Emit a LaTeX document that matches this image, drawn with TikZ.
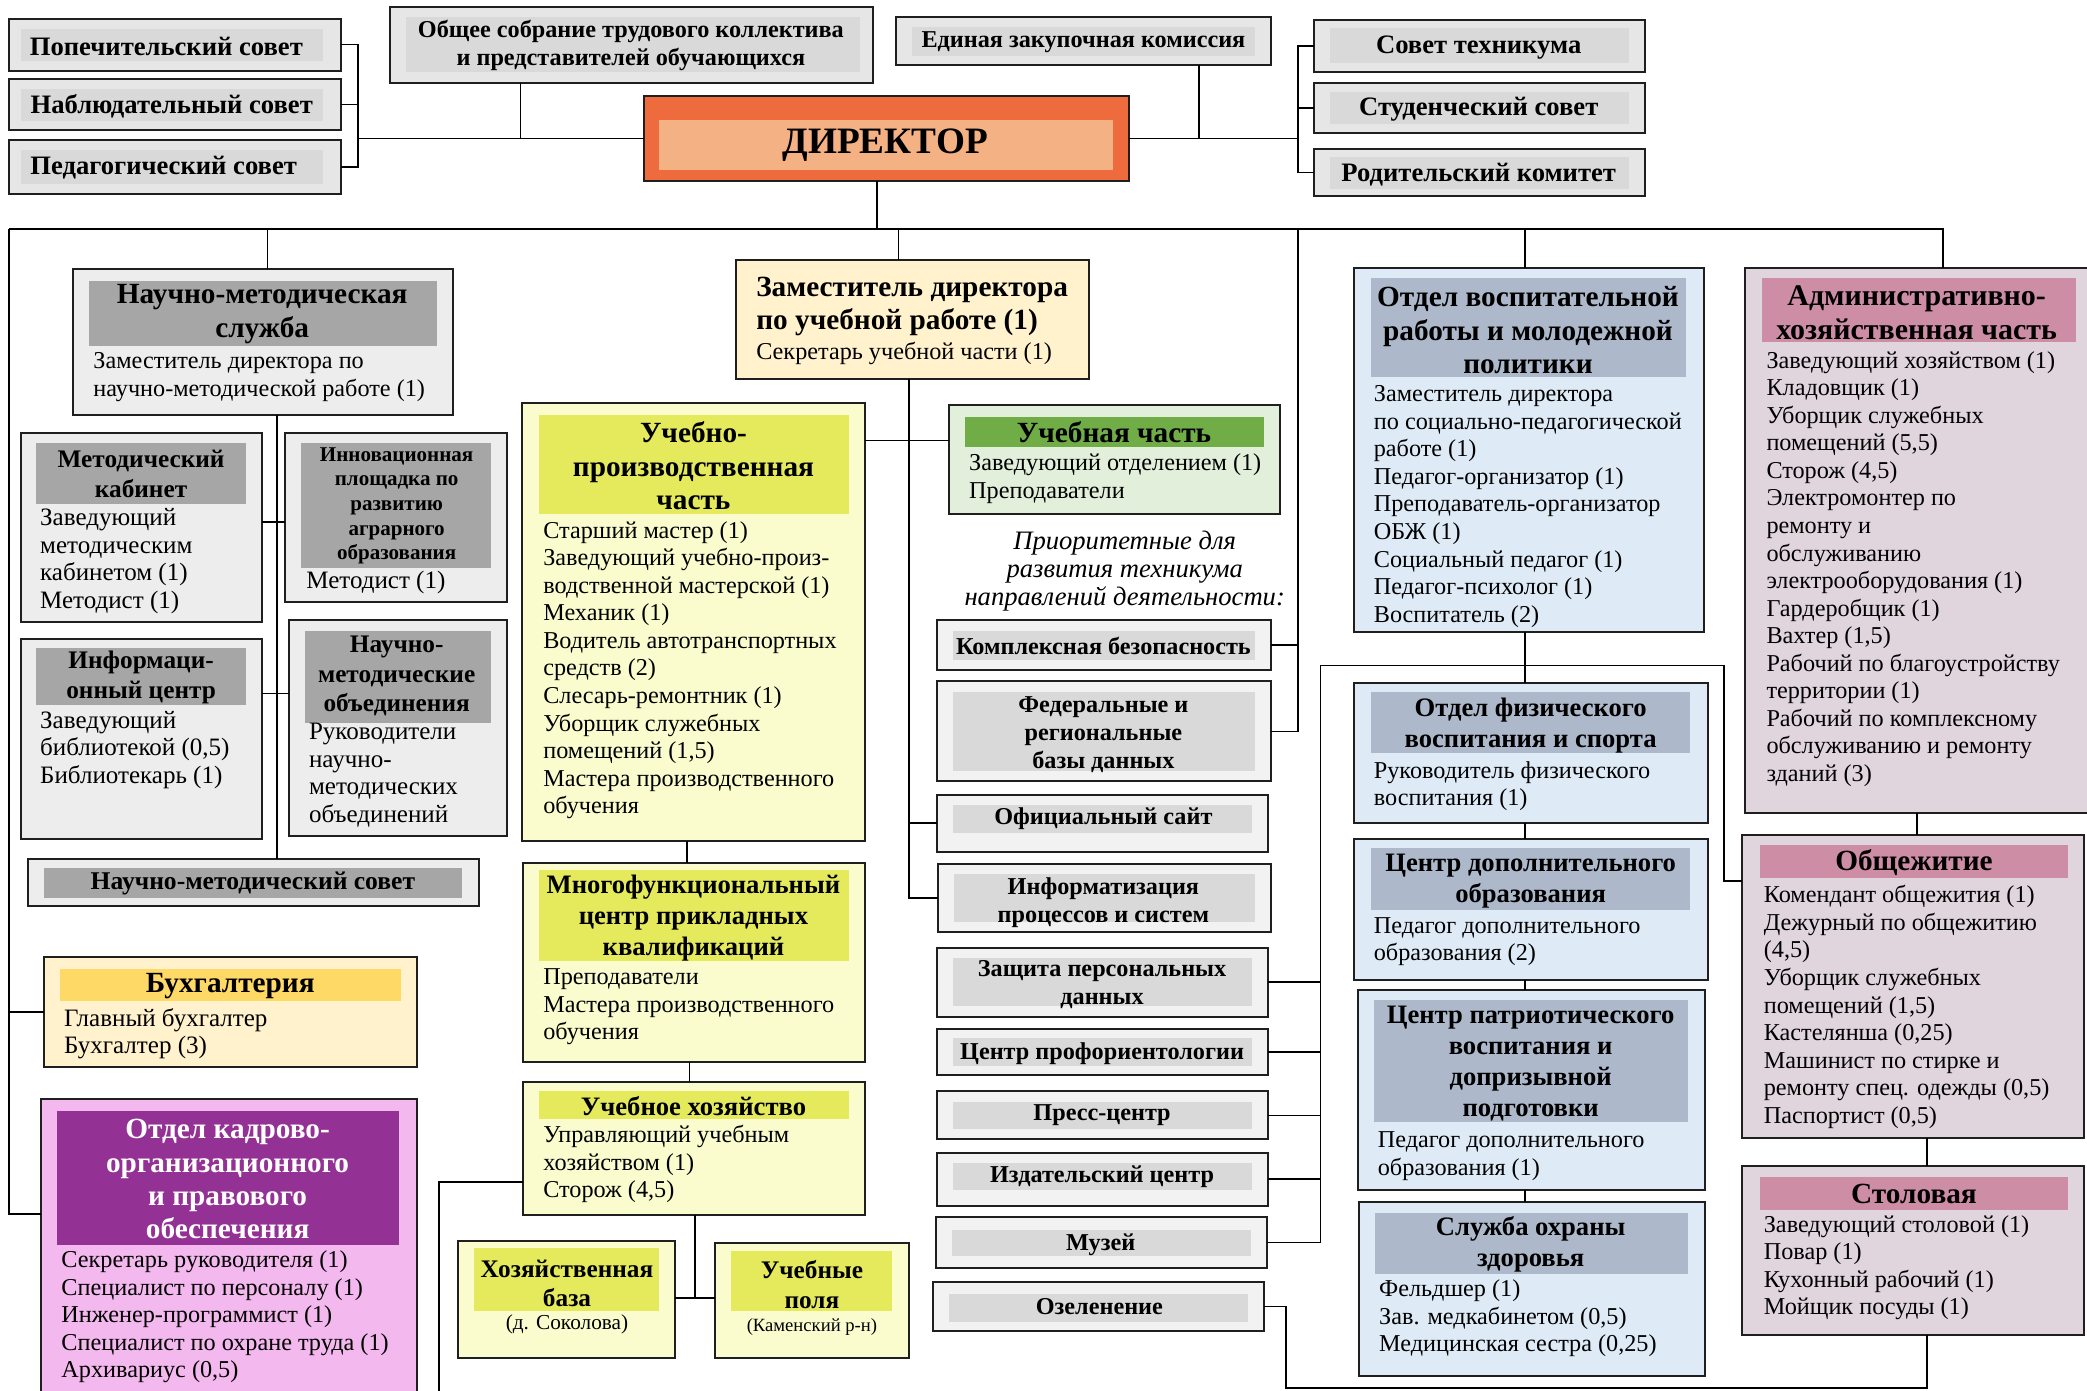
\documentclass[tikz,border=0pt]{standalone}
\usepackage{fontspec}
\setmainfont{Liberation Serif}
\definecolor{gbox}{HTML}{E7E6E6}
\definecolor{gband}{HTML}{D9D9D9}
\definecolor{nbox}{HTML}{EDEDED}
\definecolor{nband}{HTML}{A6A6A6}
\definecolor{pbox}{HTML}{F2F2F2}
\definecolor{dirout}{HTML}{EE6B3D}
\definecolor{dirin}{HTML}{F4B183}
\definecolor{cream}{HTML}{FFF2CC}
\definecolor{buhband}{HTML}{FFD966}
\definecolor{ylw}{HTML}{FAFCCE}
\definecolor{ylwband}{HTML}{E4EA5C}
\definecolor{grn}{HTML}{E2EFDA}
\definecolor{grnband}{HTML}{70AD47}
\definecolor{blu}{HTML}{DEEBF7}
\definecolor{bluband}{HTML}{ADB9CA}
\definecolor{mauve}{HTML}{E0D5DD}
\definecolor{mauveband}{HTML}{CD8DA4}
\definecolor{pink}{HTML}{F3B8ED}
\definecolor{purp}{HTML}{943195}
\newcommand{\bx}[6]{\node[#6, anchor=north west, minimum width={(#4)-(#2)}, minimum height={(#5)-(#3)}] (#1) at (#2,#3) {};}
\tikzset{
 box/.style={draw=black!88, line width=1.5pt, inner sep=0pt, outer sep=0pt},
 band/.style={draw=none, inner sep=0pt, outer sep=0pt},
 conn/.style={draw=black, line width=1.3pt},
 tb/.style={font=\bfseries\fontsize{20}{23}\selectfont, inner sep=0pt, align=center},
 ttl/.style={font=\bfseries\fontsize{22}{25}\selectfont, inner sep=0pt, align=center},
 ttlm/.style={font=\bfseries\fontsize{20}{23.3}\selectfont, inner sep=0pt, align=center},
 ttls/.style={font=\bfseries\fontsize{19}{22}\selectfont, inner sep=0pt, align=center},
 itm/.style={font=\fontsize{18.2}{20.7}\selectfont, inner sep=0pt, align=left, anchor=west, yshift=-1.5pt},
 itmw/.style={font=\fontsize{18.8}{20.7}\selectfont, inner sep=0pt, align=left, anchor=west, yshift=-1.5pt},
 pri/.style={font=\bfseries\fontsize{18.2}{21}\selectfont, inner sep=0pt, align=center},
 sml/.style={font=\fontsize{14}{17}\selectfont, inner sep=0pt, align=center},
}
\begin{document}
\begin{tikzpicture}[x=1pt,y=-1pt]
\useasboundingbox[fill=white] (0,0) rectangle (1568,1045);

% ---------- top row ----------
\bx{pop}{7}{14}{256}{53}{box,fill=gbox}
\bx{pop-b}{16}{22}{243}{46}{band,fill=gband}
\node[tb] (pop-t) at (125,35) {Попечительский совет};
\bx{nab}{7}{59}{256}{98}{box,fill=gbox}
\bx{nab-b}{16}{67}{243}{91}{band,fill=gband}
\node[tb] (nab-t) at (129,80) {Наблюдательный совет};
\bx{ped}{7}{105}{256}{146}{box,fill=gbox}
\bx{ped-b}{16}{113}{243}{138}{band,fill=gband}
\node[tb] (ped-t) at (123,126) {Педагогический совет};

\bx{obs}{293}{5}{656}{62}{box,fill=gbox}
\bx{obs-b}{305}{13}{646}{54}{band,fill=gband}
\node[font=\bfseries\fontsize{18.2}{21}\selectfont, inner sep=0pt, align=center] (obs-t) at (474,34) {Общее собрание трудового коллектива\\и представителей обучающихся};

\bx{zak}{673}{13}{955}{49}{box,fill=gbox}
\bx{zak-b}{685}{20}{943}{42}{band,fill=gband}
\node[font=\bfseries\fontsize{18.2}{21}\selectfont, inner sep=0pt] (zak-t) at (814,32) {Единая закупочная комиссия};

\bx{dir}{484}{72}{848}{136}{box,fill=dirout}
\bx{dir-b}{495}{90}{836}{128}{band,fill=dirin}
\node[font=\bfseries\fontsize{28}{32}\selectfont, inner sep=0pt] (dir-t) at (665,109) {ДИРЕКТОР};

\bx{sov}{987}{15}{1236}{54}{box,fill=gbox}
\bx{sov-b}{999}{21}{1224}{47}{band,fill=gband}
\node[tb] (sov-t) at (1111,36) {Совет техникума};
\bx{stud}{987}{62}{1236}{100}{box,fill=gbox}
\bx{stud-b}{999}{69}{1224}{93}{band,fill=gband}
\node[tb] (stud-t) at (1111,82) {Студенческий совет};
\bx{rod}{987}{112}{1236}{147}{box,fill=gbox}
\bx{rod-b}{999}{118}{1224}{142}{band,fill=gband}
\node[tb] (rod-t) at (1111,131) {Родительский комитет};

% ---------- scientific-methodical ----------
\bx{nms}{55}{202}{340}{312}{box,fill=nbox}
\bx{nms-b}{67}{211}{328}{260}{band,fill=nband}
\node[ttl] (nms-t) at (197,236) {Научно-методическая\\служба};
\node[itm] (nms-i) at (70,282) {Заместитель директора по\\научно-методической работе (1)};

\bx{mk}{16}{325}{197}{467}{box,fill=nbox}
\bx{mk-b}{27}{333}{185}{379}{band,fill=nband}
\node[ttls] (mk-t) at (106,356) {Методический\\кабинет};
\node[itmw] (mk-i) at (30,420) {Заведующий\\методическим\\кабинетом (1)\\Методист (1)};

\bx{inn}{214}{325}{381}{452}{box,fill=nbox}
\bx{inn-b}{226}{333}{369}{427}{band,fill=nband}
\node[font=\bfseries\fontsize{15.8}{18.5}\selectfont, inner sep=0pt, align=center] (inn-t) at (298,380) {Инновационная\\площадка по\\развитию\\аграрного\\образования};
\node[itmw] (inn-i) at (230,436) {Методист (1)};

\bx{ic}{16}{480}{197}{630}{box,fill=nbox}
\bx{ic-b}{27}{487}{185}{530}{band,fill=nband}
\node[ttls] (ic-t) at (106,509) {Информаци-\\онный центр};
\node[itmw] (ic-i) at (30,562) {Заведующий\\библиотекой (0,5)\\Библиотекарь (1)};

\bx{nmo}{217}{466}{381}{628}{box,fill=nbox}
\bx{nmo-b}{229}{474}{369}{543}{band,fill=nband}
\node[ttls] (nmo-t) at (298,508) {Научно-\\методические\\объединения};
\node[itmw] (nmo-i) at (232,581) {Руководители\\научно-\\методических\\объединений};

\bx{nmsov}{21}{645}{360}{681}{box,fill=nbox}
\bx{nmsov-b}{33}{652}{347}{675}{band,fill=nband}
\node[font=\bfseries\fontsize{19.2}{22}\selectfont, inner sep=0pt] (nmsov-t) at (190,664) {Научно-методический совет};

% ---------- accounting & HR ----------
\bx{buh}{33}{719}{313}{802}{box,fill=cream}
\bx{buh-b}{45}{728}{301}{752}{band,fill=buhband}
\node[ttl] (buh-t) at (173,741) {Бухгалтерия};
\node[itmw] (buh-i) at (48,775) {Главный бухгалтер\\Бухгалтер (3)};

\bx{kad}{31}{826}{313}{1065}{box,fill=pink}
\bx{kad-b}{43}{835}{300}{935}{band,fill=purp}
\node[ttl, text=white] (kad-t) at (171,886) {Отдел кадрово-\\организационного\\и правового\\обеспечения};
\node[itm] (kad-i) at (46,988) {Секретарь руководителя (1)\\Специалист по персоналу (1)\\Инженер-программист (1)\\Специалист по охране труда (1)\\Архивариус (0,5)};

% ---------- deputy for teaching ----------
\bx{zam}{553}{195}{818}{285}{box,fill=cream}
\node[font=\bfseries\fontsize{22}{25}\selectfont, inner sep=0pt, align=left, anchor=west] (zam-t) at (568,230) {Заместитель директора\\по учебной работе (1)};
\node[itm] (zam-i) at (568,264) {Секретарь учебной части (1)};

\bx{upc}{392}{303}{650}{632}{box,fill=ylw}
\bx{upc-b}{405}{312}{638}{386}{band,fill=ylwband}
\node[ttl] (upc-t) at (521,350) {Учебно-\\производственная\\часть};
\node[itm] (upc-i) at (408,502) {Старший мастер (1)\\Заведующий учебно-произ-\\водственной мастерской (1)\\Механик (1)\\Водитель автотранспортных\\средств (2)\\Слесарь-ремонтник (1)\\Уборщик служебных\\помещений (1,5)\\Мастера производственного\\обучения};

\bx{uch}{713}{304}{962}{386}{box,fill=grn}
\bx{uch-b}{725}{313}{950}{336}{band,fill=grnband}
\node[ttl] (uch-t) at (837,325) {Учебная часть};
\node[itm] (uch-i) at (728,358) {Заведующий отделением (1)\\Преподаватели};

\node[font=\itshape\fontsize{20}{20.8}\selectfont, inner sep=0pt, align=center] (prio) at (845,429) {Приоритетные для\\развития техникума\\направлений деятельности:};

\bx{mfc}{393}{648}{650}{798}{box,fill=ylw}
\bx{mfc-b}{405}{654}{638}{722}{band,fill=ylwband}
\node[ttlm] (mfc-t) at (521,690) {Многофункциональный\\центр прикладных\\квалификаций};
\node[itm] (mfc-i) at (408,755) {Преподаватели\\Мастера производственного\\обучения};

\bx{uh}{393}{813}{650}{913}{box,fill=ylw}
\bx{uh-b}{405}{820}{638}{841}{band,fill=ylwband}
\node[ttlm] (uh-t) at (521,831) {Учебное хозяйство};
\node[itm] (uh-i) at (408,873) {Управляющий учебным\\хозяйством (1)\\Сторож (4,5)};

\bx{hb}{344}{932}{507}{1020}{box,fill=ylw}
\bx{hb-b}{356}{938}{495}{985}{band,fill=ylwband}
\node[ttls] (hb-t) at (426,964) {Хозяйственная\\база};
\node[font=\fontsize{16}{18}\selectfont, inner sep=0pt] (hb-i) at (426,995) {(д. Соколова)};

\bx{up}{537}{934}{683}{1020}{box,fill=ylw}
\bx{up-b}{549}{940}{670}{985}{band,fill=ylwband}
\node[ttls] (up-t) at (610,965) {Учебные\\поля};
\node[sml] (up-i) at (610,997) {(Каменский р-н)};

% ---------- priority directions ----------
\bx{kb}{704}{466}{955}{503}{box,fill=pbox}
\bx{kb-b}{716}{474}{943}{496}{band,fill=gband}
\node[pri] (kb-t) at (829,485) {Комплексная безопасность};
\bx{fed}{704}{512}{955}{587}{box,fill=pbox}
\bx{fed-b}{716}{520}{943}{579}{band,fill=gband}
\node[pri] (fed-t) at (829,552) {Федеральные и\\региональные\\базы данных};
\bx{os}{704}{597}{953}{640}{box,fill=pbox}
\bx{os-b}{716}{605}{941}{626}{band,fill=gband}
\node[pri] (os-t) at (829,615) {Официальный сайт};
\bx{inf}{705}{649}{955}{700}{box,fill=pbox}
\bx{inf-b}{717}{657}{943}{693}{band,fill=gband}
\node[pri] (inf-t) at (829,678) {Информатизация\\процессов и систем};
\bx{zash}{704}{712}{953}{764}{box,fill=pbox}
\bx{zash-b}{716}{720}{941}{756}{band,fill=gband}
\node[pri] (zash-t) at (828,740) {Защита персональных\\данных};
\bx{cpr}{704}{773}{953}{808}{box,fill=pbox}
\bx{cpr-b}{716}{780}{941}{801}{band,fill=gband}
\node[pri] (cpr-t) at (828,792) {Центр профориентологии};
\bx{press}{704}{820}{953}{856}{box,fill=pbox}
\bx{press-b}{716}{828}{941}{848}{band,fill=gband}
\node[pri] (press-t) at (828,838) {Пресс-центр};
\bx{izd}{704}{866}{953}{906}{box,fill=pbox}
\bx{izd-b}{716}{874}{941}{894}{band,fill=gband}
\node[pri] (izd-t) at (828,884) {Издательский центр};
\bx{muz}{703}{914}{952}{953}{box,fill=pbox}
\bx{muz-b}{715}{924}{940}{944}{band,fill=gband}
\node[pri] (muz-t) at (827,935) {Музей};
\bx{oz}{701}{963}{950}{1000}{box,fill=pbox}
\bx{oz-b}{713}{972}{938}{993}{band,fill=gband}
\node[pri] (oz-t) at (826,982) {Озеленение};

% ---------- educational work (blue) ----------
\bx{ov}{1017}{201}{1280}{475}{box,fill=blu}
\bx{ov-b}{1030}{209}{1267}{283}{band,fill=bluband}
\node[ttl] (ov-t) at (1148,248) {Отдел воспитательной\\работы и молодежной\\политики};
\node[itm] (ov-i) at (1032,379) {Заместитель директора\\по социально-педагогической\\работе (1)\\Педагог-организатор (1)\\Преподаватель-организатор\\ОБЖ (1)\\Социальный педагог (1)\\Педагог-психолог (1)\\Воспитатель (2)};

\bx{of}{1017}{513}{1283}{618}{box,fill=blu}
\bx{of-b}{1030}{520}{1270}{566}{band,fill=bluband}
\node[ttlm] (of-t) at (1150,545) {Отдел физического\\воспитания и спорта};
\node[itm] (of-i) at (1032,589) {Руководитель физического\\воспитания (1)};

\bx{cdo}{1017}{630}{1283}{736}{box,fill=blu}
\bx{cdo-b}{1030}{637}{1270}{684}{band,fill=bluband}
\node[ttlm] (cdo-t) at (1150,662) {Центр дополнительного\\образования};
\node[itm] (cdo-i) at (1032,706) {Педагог дополнительного\\образования (2)};

\bx{cpv}{1020}{744}{1281}{894}{box,fill=blu}
\bx{cpv-b}{1032}{751}{1268}{843}{band,fill=bluband}
\node[ttlm] (cpv-t) at (1150,799) {Центр патриотического\\воспитания и\\допризывной\\подготовки};
\node[itm] (cpv-i) at (1035,867) {Педагог дополнительного\\образования (1)};

\bx{soz}{1021}{903}{1281}{1034}{box,fill=blu}
\bx{soz-b}{1033}{911}{1268}{957}{band,fill=bluband}
\node[ttlm] (soz-t) at (1150,935) {Служба охраны\\здоровья};
\node[itm] (soz-i) at (1036,989) {Фельдшер (1)\\Зав. медкабинетом (0,5)\\Медицинская сестра (0,25)};

% ---------- administrative (mauve) ----------
\bx{ahch}{1311}{201}{1575}{611}{box,fill=mauve}
\bx{ahch-b}{1324}{209}{1560}{257}{band,fill=mauveband}
\node[font=\bfseries\fontsize{22.5}{25}\selectfont, inner sep=0pt, align=center] (ahch-t) at (1440,235) {Административно-\\хозяйственная часть};
\node[itm] (ahch-i) at (1327,426) {Заведующий хозяйством (1)\\Кладовщик (1)\\Уборщик служебных\\помещений (5,5)\\Сторож (4,5)\\Электромонтер по\\ремонту и\\обслуживанию\\электрооборудования (1)\\Гардеробщик (1)\\Вахтер (1,5)\\Рабочий по благоустройству\\территории (1)\\Рабочий по комплексному\\обслуживанию и ремонту\\зданий (3)};

\bx{obsh}{1309}{627}{1566}{855}{box,fill=mauve}
\bx{obsh-b}{1322}{635}{1554}{660}{band,fill=mauveband}
\node[ttl] (obsh-t) at (1438,648) {Общежитие};
\node[itm] (obsh-i) at (1325,755) {Комендант общежития (1)\\Дежурный по общежитию\\(4,5)\\Уборщик служебных\\помещений (1,5)\\Кастелянша (0,25)\\Машинист по стирке и\\ремонту спец. одежды (0,5)\\Паспортист (0,5)};

\bx{stol}{1309}{876}{1566}{1003}{box,fill=mauve}
\bx{stol-b}{1322}{884}{1554}{909}{band,fill=mauveband}
\node[ttl] (stol-t) at (1438,897) {Столовая};
\node[itm] (stol-i) at (1325,951) {Заведующий столовой (1)\\Повар (1)\\Кухонный рабочий (1)\\Мойщик посуды (1)};

% ---------- connectors ----------
\coordinate (lbx) at (269,0);
\draw[conn] (pop.east) -- (pop.east -| lbx) -- (ped.east -| lbx) -- (ped.east);
\draw[conn] (nab.east) -- (nab.east -| lbx);
\draw[conn] (lbx |- dir.west) -- (dir.west);
\coordinate (obx) at (391,0);
\draw[conn] (obs.south -| obx) -- (obx |- dir.west);
\coordinate (rbx) at (975,0);
\draw[conn] (dir.east) -- (dir.east -| rbx);
\draw[conn] (sov.west) -- (sov.west -| rbx) -- (rod.west -| rbx) -- (rod.west);
\draw[conn] (stud.west) -- (stud.west -| rbx);
\coordinate (zkx) at (901,0);
\draw[conn] (zak.south -| zkx) -- (zkx |- dir.east);

\coordinate (busL) at (7,172);
\coordinate (busR) at (1460,172);
\coordinate (dx) at (659,0);
\draw[conn] (dir.south -| dx) -- (dx |- busL);
\draw[conn] (busL) -- (busR) -- (busR |- ahch.north);
\coordinate (kadj) at (7,912);
\draw[conn] (busL) -- (kadj) -- (kadj -| kad.west);
\draw[conn] (buh.west -| busL) -- (buh.west);
\coordinate (nsx) at (201,0);
\draw[conn] (nsx |- busL) -- (nsx |- nms.north);
\coordinate (zmx) at (675,0);
\draw[conn] (zmx |- busL) -- (zmx |- zam.north);
\coordinate (ovx) at (1146,0);
\draw[conn] (ovx |- busL) -- (ovx |- ov.north);
\draw[conn] (rbx |- busL) -- (rbx |- fed.east) -- (fed.east);
\draw[conn] (kb.east) -- (kb.east -| rbx);

\coordinate (nx) at (208,0);
\draw[conn] (nx |- nms.south) -- (nx |- nmsov.north);
\coordinate (j1) at (208,392);
\draw[conn] (j1 -| mk.east) -- (j1 -| inn.west);
\coordinate (j2) at (208,521);
\draw[conn] (j2 -| ic.east) -- (j2 -| nmo.west);

\coordinate (zx) at (683,0);
\draw[conn] (zx |- zam.south) -- (zx |- inf.west) -- (inf.west);
\coordinate (j3) at (683,331);
\draw[conn] (j3 -| upc.east) -- (j3 -| uch.west);
\draw[conn] (os.west) -- (os.west -| zx);

\coordinate (ux1) at (516,0);
\draw[conn] (ux1 |- upc.south) -- (ux1 |- mfc.north);
\coordinate (ux2) at (518,0);
\draw[conn] (ux2 |- mfc.south) -- (ux2 |- uh.north);
\coordinate (j5) at (522,975);
\draw[conn] (j5 |- uh.south) -- (j5);
\draw[conn] (j5 -| hb.east) -- (j5 -| up.west);
\coordinate (j4) at (330,888);
\coordinate (j4b) at (330,1050);
\draw[conn] (j4 -| uh.west) -- (j4) -- (j4b);

\draw[conn] (ovx |- ov.south) -- (ovx |- of.north);
\draw[conn] (ovx |- of.south) -- (ovx |- cdo.north);
\draw[conn] (ovx |- cdo.south) -- (ovx |- cpv.north);
\draw[conn] (ovx |- cpv.south) -- (ovx |- soz.north);

\coordinate (h1) at (992,500);
\coordinate (h2) at (1295,500);
\coordinate (h3) at (1295,662);
\draw[conn] (h1 |- muz.east) -- (h1) -- (h2) -- (h3) -- (h3 -| obsh.west);
\foreach \n in {zash,cpr,press,izd,muz} {\draw[conn] (\n.east) -- (\n.east -| h1);}

\coordinate (ozx) at (966,1043);
\coordinate (stx) at (1448,1043);
\draw[conn] (oz.east) -- (oz.east -| ozx) -- (ozx) -- (stx) -- (stx |- stol.south);
\coordinate (ax) at (1440,0);
\draw[conn] (ax |- ahch.south) -- (ax |- obsh.north);
\draw[conn] (stx |- obsh.south) -- (stx |- stol.north);
\end{tikzpicture}
\end{document}
